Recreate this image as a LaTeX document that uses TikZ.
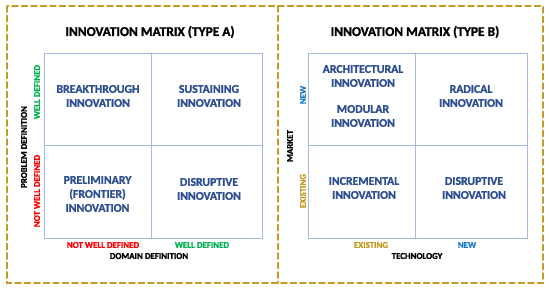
\documentclass[tikz,border=0pt]{standalone}
\usepackage{fontspec}
\setmainfont{Carlito}[BoldFont={Carlito Bold},BoldFeatures={FakeBold=1.6}]
\usetikzlibrary{positioning}
\definecolor{oro}{HTML}{C49A22}
\definecolor{rejilla}{HTML}{A4B9E2}
\definecolor{tinta}{HTML}{2E4F8F}
\definecolor{verde}{HTML}{00B050}
\definecolor{rojo}{HTML}{FF0000}
\definecolor{azul}{HTML}{1F7AC4}

\begin{document}
\begin{tikzpicture}[x=1pt,y=-1pt,line cap=round,
    titulo/.style={font=\fontsize{13.4}{15}\selectfont\bfseries},
    celda/.style={tinta,align=center,font=\fontsize{11.8}{14}\selectfont\bfseries},
    eje/.style={font=\fontsize{8.9}{10}\selectfont\bfseries},
    rejas/.style={rejilla,line width=0.9pt}]
        \useasboundingbox (0,0) rectangle (550,292);
        \draw[oro,line width=1.6pt,dash pattern=on 6pt off 3.5pt] (7,6) rectangle (543,283);
        \draw[oro,line width=1.6pt,dash pattern=on 6pt off 3.5pt] (278,6) -- (278,283);
        % type A
        \node[titulo] (tA) at (150,32) {INNOVATION MATRIX (TYPE A)};
        \draw[rejas] (44,53) rectangle (262,238);
        \draw[rejas] (151,53) -- (151,238);
        \draw[rejas] (44,145) -- (262,145);
        \node[celda] (brk) at (98,96) {BREAKTHROUGH\\INNOVATION};
        \node[celda] (sus) at (209,96) {SUSTAINING\\INNOVATION};
        \node[celda] (pre) at (97.5,194) {PRELIMINARY\\(FRONTIER)\\INNOVATION};
        \node[celda] (disA) at (209,189) {DISRUPTIVE\\INNOVATION};
        \node[eje,rojo] (nwdX) at (103,245) {NOT WELL DEFINED};
        \node[eje,verde] (wdX) at (202,245) {WELL DEFINED};
        \node[eje] (dom) at (149,256) {DOMAIN DEFINITION};
        \node[eje,verde,rotate=90] (wdY) at (37,92) {WELL DEFINED};
        \node[eje,rojo,rotate=90] (nwdY) at (37,191) {NOT WELL DEFINED};
        \node[eje,rotate=90] (prob) at (24,147) {PROBLEM DEFINITION};
        % type B
        \node[titulo] (tB) at (415,32) {INNOVATION MATRIX (TYPE B)};
        \draw[rejas] (308,53) rectangle (527,238);
        \draw[rejas] (415,53) -- (415,238);
        \draw[rejas] (308,145) -- (527,145);
        \node[celda] (arq) at (363,76) {ARCHITECTURAL\\INNOVATION};
        \node[celda] (mod) at (363,116) {MODULAR\\INNOVATION};
        \node[celda] (rad) at (471,96) {RADICAL\\INNOVATION};
        \node[celda] (inc) at (364,188) {INCREMENTAL\\INNOVATION};
        \node[celda] (disB) at (474,188) {DISRUPTIVE\\INNOVATION};
        \node[eje,oro] (exX) at (371,245) {EXISTING};
        \node[eje,azul] (nwX) at (467,245) {NEW};
        \node[eje] (tec) at (417,256) {TECHNOLOGY};
        \node[eje,azul,rotate=90] (nwY) at (303,95) {NEW};
        \node[eje,oro,rotate=90] (exY) at (303,191) {EXISTING};
        \node[eje,rotate=90] (mkt) at (290,146) {MARKET};
\end{tikzpicture}
\end{document}
